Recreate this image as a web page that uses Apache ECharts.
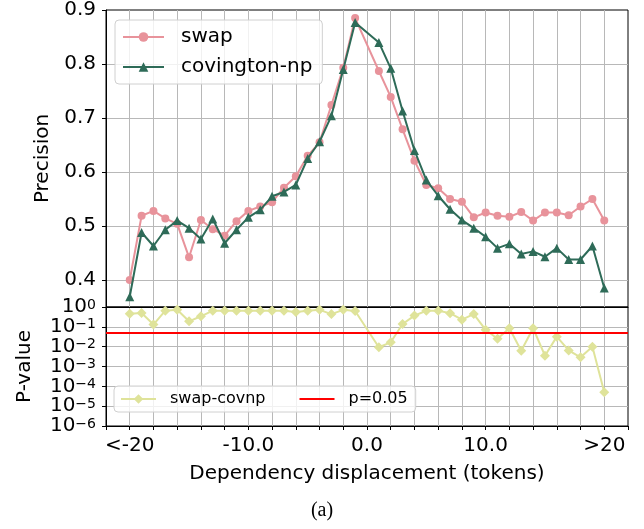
<!DOCTYPE html>
<html><head><meta charset="utf-8">
<script src="https://cdn.jsdelivr.net/npm/echarts@6/dist/echarts.min.js"></script>
<style>html,body{margin:0;padding:0;background:#fff}#c{width:644px;height:529px}</style>
</head><body><div id="c"></div>
<script>
// ---- data ----
const displacements = [-20,-19,-18,-17,-16,-15,-14,-13,-12,-11,-10,-9,-8,-7,-6,-5,-4,-3,-2,-1,
  1,2,3,4,5,6,7,8,9,10,11,12,13,14,15,16,17,18,19,20];
const swapPrecision = [0.400,0.519,0.528,0.514,0.504,0.442,0.511,0.494,0.482,0.509,0.528,0.536,0.544,0.571,0.592,0.630,0.655,0.724,0.793,0.885,
  0.787,0.739,0.679,0.621,0.576,0.570,0.550,0.545,0.516,0.525,0.519,0.517,0.526,0.510,0.525,0.525,0.520,0.536,0.550,0.510];
const covingtonPrecision = [0.369,0.488,0.463,0.493,0.510,0.496,0.476,0.513,0.468,0.493,0.516,0.530,0.555,0.563,0.576,0.625,0.656,0.704,0.790,0.877,
  0.840,0.792,0.713,0.640,0.585,0.556,0.531,0.511,0.496,0.480,0.459,0.467,0.448,0.453,0.443,0.459,0.438,0.438,0.463,0.385];
const pValues = [0.46,0.50,0.13,0.65,0.72,0.19,0.34,0.65,0.65,0.65,0.65,0.65,0.65,0.65,0.56,0.65,0.72,0.44,0.72,0.63,
  0.0093,0.0166,0.138,0.37,0.65,0.65,0.49,0.23,0.44,0.071,0.025,0.085,0.0062,0.085,0.0035,0.032,0.0065,0.0029,0.010,0.000051];
const threshold = 0.05;
const xTickLabels = {'-20':'<-20','-10':'-10.0','0':'0.0','10':'10.0','20':'>20'};
const precisionTicks = [0.4,0.5,0.6,0.7,0.8,0.9];

const FONT = 'DejaVu Sans';
const pair = (ys) => displacements.map((x, i) => [x, ys[i]]);

const chart = echarts.init(document.getElementById('c'), null, {renderer: 'canvas'});
const gridLine = {show: true, showMinLine: false, showMaxLine: false, lineStyle: {color: '#b8b8b8', width: 1}};
const axisLine = {show: true, onZero: false, lineStyle: {color: '#000', width: 1}};
const nameStyle = {fontSize: 20, fontFamily: FONT, color: '#000'};

chart.setOption({
  animation: false,
  backgroundColor: '#fff',
  grid: [
    {left: 106, top: 10, width: 522, height: 297, show: true, borderColor: '#000', borderWidth: 1, backgroundColor: 'transparent'},
    {left: 106, top: 307, width: 522, height: 119, show: true, borderColor: '#000', borderWidth: 1, backgroundColor: 'transparent'}
  ],
  xAxis: [
    {type: 'value', gridIndex: 0, min: -22, max: 22, interval: 2,
      axisLine: axisLine, axisTick: {show: false}, axisLabel: {show: false}, splitLine: gridLine},
    {type: 'value', gridIndex: 1, min: -22, max: 22, interval: 2,
      axisLine: axisLine,
      axisTick: {show: true, length: 4, lineStyle: {color: '#000'}},
      axisLabel: {show: true, margin: 10, fontSize: 20, fontFamily: FONT, color: '#000',
        formatter: (v) => xTickLabels[String(Math.round(v))] || ''},
      splitLine: gridLine,
      name: 'Dependency displacement (tokens)', nameLocation: 'middle', nameGap: 38,
      nameTextStyle: nameStyle}
  ],
  yAxis: [
    {type: 'value', gridIndex: 0, min: 0.35, max: 0.9, splitNumber: 5,
      axisLine: axisLine,
      axisTick: {show: true, length: 4, lineStyle: {color: '#000'}},
      axisLabel: {margin: 10, fontSize: 20, fontFamily: FONT, color: '#000',
        formatter: (v) => precisionTicks.some(t => Math.abs(t - v) < 1e-6) ? v.toFixed(1) : ''},
      splitLine: gridLine,
      name: 'Precision', nameLocation: 'middle', nameGap: 53, nameTextStyle: nameStyle},
    {type: 'log', gridIndex: 1, logBase: 10, min: 1e-6, max: 1, splitNumber: 6,
      axisLine: axisLine,
      axisTick: {show: true, length: 4, lineStyle: {color: '#000'}},
      axisLabel: {margin: 10, color: '#000', showMinLabel: true, showMaxLabel: true, hideOverlap: false,
        formatter: (v) => {
          const e = Math.round(Math.log10(v));
          return '{b|10}{s|' + (e < 0 ? '\u2212' : '') + Math.abs(e) + '}';
        },
        rich: {
          b: {fontSize: 20, fontFamily: FONT, color: '#000', lineHeight: 18},
          s: {fontSize: 14, fontFamily: FONT, color: '#000', lineHeight: 4, verticalAlign: 'top'}
        }},
      splitLine: gridLine,
      name: 'P-value', nameLocation: 'middle', nameGap: 71, nameTextStyle: nameStyle}
  ],
  legend: [
    {data: ['swap', 'covington-np'], orient: 'vertical', left: 115, top: 20,
      itemWidth: 41, itemHeight: 12, itemGap: 10,
      textStyle: {fontSize: 20, fontFamily: FONT, color: '#000', padding: [0, 0, 0, 12]},
      borderColor: '#d0d0d0', borderWidth: 1, borderRadius: 4,
      backgroundColor: 'rgba(255,255,255,0.8)', padding: [7, 10, 7, 7]},
    {data: ['swap-covnp', {name: 'p=0.05', itemStyle: {opacity: 0}}], orient: 'horizontal', left: 114, top: 386,
      itemWidth: 35, itemHeight: 12, itemGap: 33,
      textStyle: {fontSize: 16, fontFamily: FONT, color: '#000', padding: [0, 0, 0, 9]},
      borderColor: '#d0d0d0', borderWidth: 1, borderRadius: 4,
      backgroundColor: 'rgba(255,255,255,0.8)', padding: [5, 8, 5, 6]}
  ],
  series: [
    {name: 'swap', type: 'line', xAxisIndex: 0, yAxisIndex: 0, data: pair(swapPrecision),
      symbol: 'circle', symbolSize: 8, color: '#e8939b',
      lineStyle: {width: 2, color: '#e8939b'}, itemStyle: {color: '#e8939b'}, z: 3},
    {name: 'covington-np', type: 'line', xAxisIndex: 0, yAxisIndex: 0, data: pair(covingtonPrecision),
      symbol: 'triangle', symbolSize: 9, color: '#2e6b58',
      lineStyle: {width: 2, color: '#2e6b58'}, itemStyle: {color: '#2e6b58'}, z: 4},
    {name: 'p=0.05', type: 'line', xAxisIndex: 1, yAxisIndex: 1, data: [],
      symbol: 'none', color: '#ff0000', lineStyle: {width: 2, color: '#ff0000'}, z: 2,
      markLine: {silent: true, symbol: 'none', label: {show: false},
        lineStyle: {color: '#ff0000', width: 2, type: 'solid'},
        data: [{yAxis: threshold}]}},
    {name: 'swap-covnp', type: 'line', xAxisIndex: 1, yAxisIndex: 1, data: pair(pValues),
      symbol: 'diamond', symbolSize: 10, color: '#dfe39a',
      lineStyle: {width: 2, color: '#dfe39a'}, itemStyle: {color: '#dfe39a'}, z: 3}
  ],
  graphic: [
    {type: 'text', x: 322, y: 511, style: {text: '(a)', fontSize: 20, fontFamily: 'Liberation Serif',
      fill: '#000', align: 'center', verticalAlign: 'middle'}}
  ]
});
</script></body></html>
